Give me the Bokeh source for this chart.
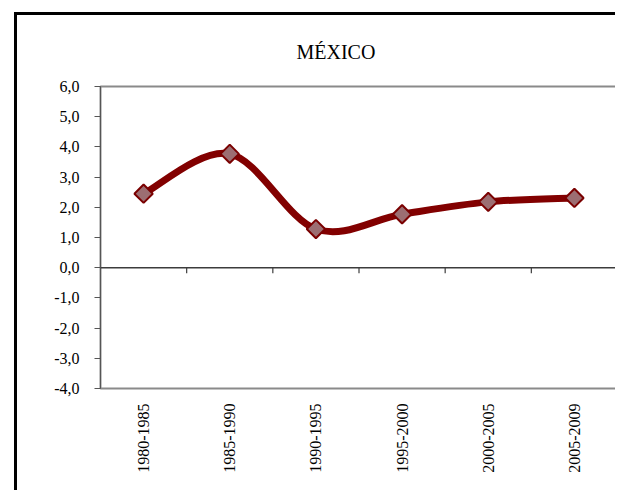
import numpy as np
from bokeh.plotting import figure
from bokeh.models import FactorRange, FixedTicker, Span
from bokeh.embed import file_html
from bokeh.resources import INLINE

periods = ["1980-1985", "1985-1990", "1990-1995", "1995-2000", "2000-2005", "2005-2009"]
values = [2.45, 3.77, 1.28, 1.77, 2.18, 2.31]
y_ticks = [-4, -3, -2, -1, 0, 1, 2, 3, 4, 5, 6]
y_tick_labels = ["-4,0", "-3,0", "-2,0", "-1,0", "0,0", "1,0", "2,0", "3,0", "4,0", "5,0", "6,0"]
title_text = "MÉXICO"

FONT = "Liberation Serif"
LINE_COLOR = "#820000"
MARKER_FILL = "#9c6e72"

p = figure(
    x_range=FactorRange(factors=periods), y_range=(-4, 6),
    width=601, height=478,
    output_backend="svg", toolbar_location=None,
    min_border_left=83, min_border_right=1, min_border_top=70, min_border_bottom=105,
)
# outer chart border: only its left and top edges fall inside the picture
p.margin = (12, 0, 0, 14)
p.styles = {"border-left": "3px solid #000", "border-top": "3px solid #000"}

p.background_fill_color = "white"
p.border_fill_color = "white"
p.outline_line_color = "#8a8a8a"
p.outline_line_width = 2
p.grid.visible = False

# title
p.title.text = title_text
p.title.align = "left"
p.title.offset = 196
p.title.standoff = 47
p.title.text_font = FONT
p.title.text_font_size = "20px"
p.title.text_font_style = "normal"
p.title.text_color = "black"

# y axis
p.yaxis.ticker = FixedTicker(ticks=y_ticks)
p.yaxis.major_label_overrides = dict(zip(y_ticks, y_tick_labels))
p.yaxis.major_tick_in = 0
p.yaxis.major_tick_out = 6
p.yaxis.minor_tick_line_color = None
p.yaxis.axis_line_color = "#555555"
p.yaxis.major_tick_line_color = "#555555"
p.yaxis.major_label_standoff = 15
p.yaxis.major_label_text_font = FONT
p.yaxis.major_label_text_font_size = "16px"
p.yaxis.major_label_text_color = "black"

# x axis (labels only)
p.xaxis.axis_line_color = None
p.xaxis.major_tick_line_color = None
p.xaxis.major_label_orientation = np.pi / 2
p.xaxis.major_label_standoff = 9
p.xaxis.major_label_text_font = FONT
p.xaxis.major_label_text_font_size = "16px"
p.xaxis.major_label_text_color = "black"

# zero line with category-boundary ticks
p.add_layout(Span(location=0, dimension="width", line_color="#3c3c3c", line_width=1.5))
bounds = list(range(1, len(periods)))
p.segment(x0=bounds, y0=[0] * len(bounds), x1=bounds, y1=[-0.18] * len(bounds),
          line_color="#3c3c3c", line_width=1.2)

# smoothed line (Catmull-Rom style Bezier segments, as in spreadsheet smoothing)
xs = np.arange(len(periods)) + 0.5
ys = np.array(values, dtype=float)
n = len(xs)
bx0, by0, bx1, by1, cx0, cy0, cx1, cy1 = ([] for _ in range(8))
for i in range(n - 1):
    pm = i - 1 if i > 0 else i
    pp = i + 2 if i + 2 < n else i + 1
    bx0.append(xs[i]); by0.append(ys[i])
    bx1.append(xs[i + 1]); by1.append(ys[i + 1])
    cx0.append(xs[i] + (xs[i + 1] - xs[pm]) / 6); cy0.append(ys[i] + (ys[i + 1] - ys[pm]) / 6)
    cx1.append(xs[i + 1] - (xs[pp] - xs[i]) / 6); cy1.append(ys[i + 1] - (ys[pp] - ys[i]) / 6)
p.bezier(x0=bx0, y0=by0, x1=bx1, y1=by1, cx0=cx0, cy0=cy0, cx1=cx1, cy1=cy1,
         line_color=LINE_COLOR, line_width=7, line_cap="round")

p.scatter(x=periods, y=values, marker="square", size=13, angle=np.pi / 4,
          fill_color=MARKER_FILL, line_color="#7a0000", line_width=2)

open("out.html", "w").write(file_html(p, INLINE))
